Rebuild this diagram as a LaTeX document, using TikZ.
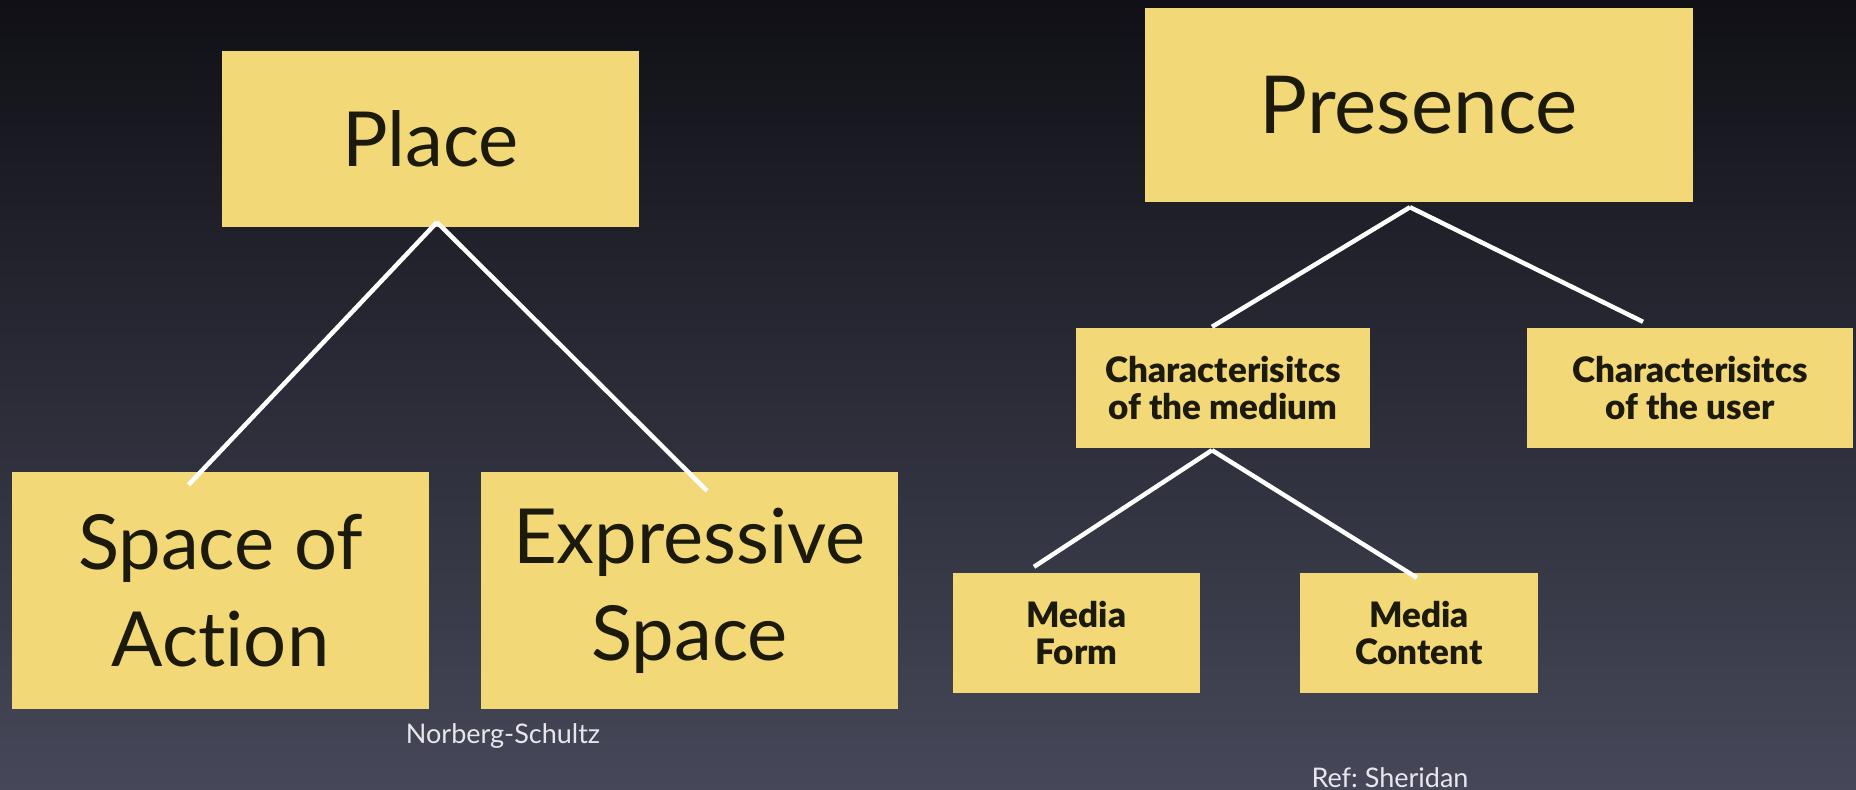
\documentclass[tikz,border=0pt]{standalone}
\usepackage{fontspec}
\setmainfont{Lato}[Ligatures=NoCommon]
\newfontfamily\heavyfont{Lato Black}[Ligatures=NoCommon]
\usetikzlibrary{calc}
\definecolor{notegold}{HTML}{F2D877}
\definecolor{inkdark}{HTML}{1B1A0C}
\definecolor{bgtop}{HTML}{101016}
\definecolor{bgbot}{HTML}{464859}
\definecolor{credit}{HTML}{E6E6EC}

\begin{document}
\begin{tikzpicture}[x=1pt,y=-1pt,every node/.style={inner sep=0pt},
		note/.style={fill=notegold,text=inkdark,align=center},
		bignote/.style={note,font=\fontsize{76}{97}\selectfont},
		smallnote/.style={note,font=\heavyfont\fontsize{35}{37}\selectfont},
		branch/.style={draw=white,line width=4.5pt},
		source/.style={text=credit,anchor=base,font=\frenchspacing\fontsize{27}{28}\selectfont}]
			\shade[top color=bgtop,bottom color=bgbot] (0,0) rectangle (1856,790);
			\useasboundingbox (0,0) rectangle (1856,790);
			% left tree
			\node[bignote,minimum width=417pt,minimum height=176pt] (place) at (430.5,139) {Place};
			\node[bignote,minimum width=417pt,minimum height=237pt] (action) at (220.5,590.5) {Space of\\Action};
			\node[bignote,minimum width=417pt,minimum height=237pt] (expr) at (689.5,590.5) {Expressive\\Space};
			\draw[branch] ($(place.south)+(6.5,-5)$) -- ($(action.north)+(-32,13)$);
			\draw[branch] ($(place.south)+(6.5,-5)$) -- ($(expr.north)+(17.5,19)$);
			\node[source] (norberg) at (503,743) {Norberg-Schultz};
			% right tree
			\node[bignote,font=\fontsize{80}{97}\selectfont,minimum width=548pt,minimum height=194pt] (presence) at (1419,105) {Presence};
			\node[smallnote,minimum width=294pt,minimum height=120pt] (medium) at (1223,388) {Characterisitcs\\of the medium};
			\node[smallnote,minimum width=326pt,minimum height=120pt] (user) at (1690,388) {Characterisitcs\\of the user};
			\node[smallnote,minimum width=247pt,minimum height=120pt] (form) at (1076.5,633) {Media\\Form};
			\node[smallnote,minimum width=238pt,minimum height=120pt] (content) at (1419,633) {Media\\Content};
			\draw[branch] ($(presence.south)+(-9,5)$) -- ($(medium.north)+(-11,-1)$);
			\draw[branch] ($(presence.south)+(-9,5)$) -- ($(user.north)+(-47,-6)$);
			\draw[branch] ($(medium.south)+(-11,2)$) -- ($(form.north)+(-42.5,-6)$);
			\draw[branch] ($(medium.south)+(-11,2)$) -- ($(content.north)+(-2,5)$);
			\node[source] (sheridan) at (1390,787) {Ref: Sheridan};
		\end{tikzpicture}
\end{document}
